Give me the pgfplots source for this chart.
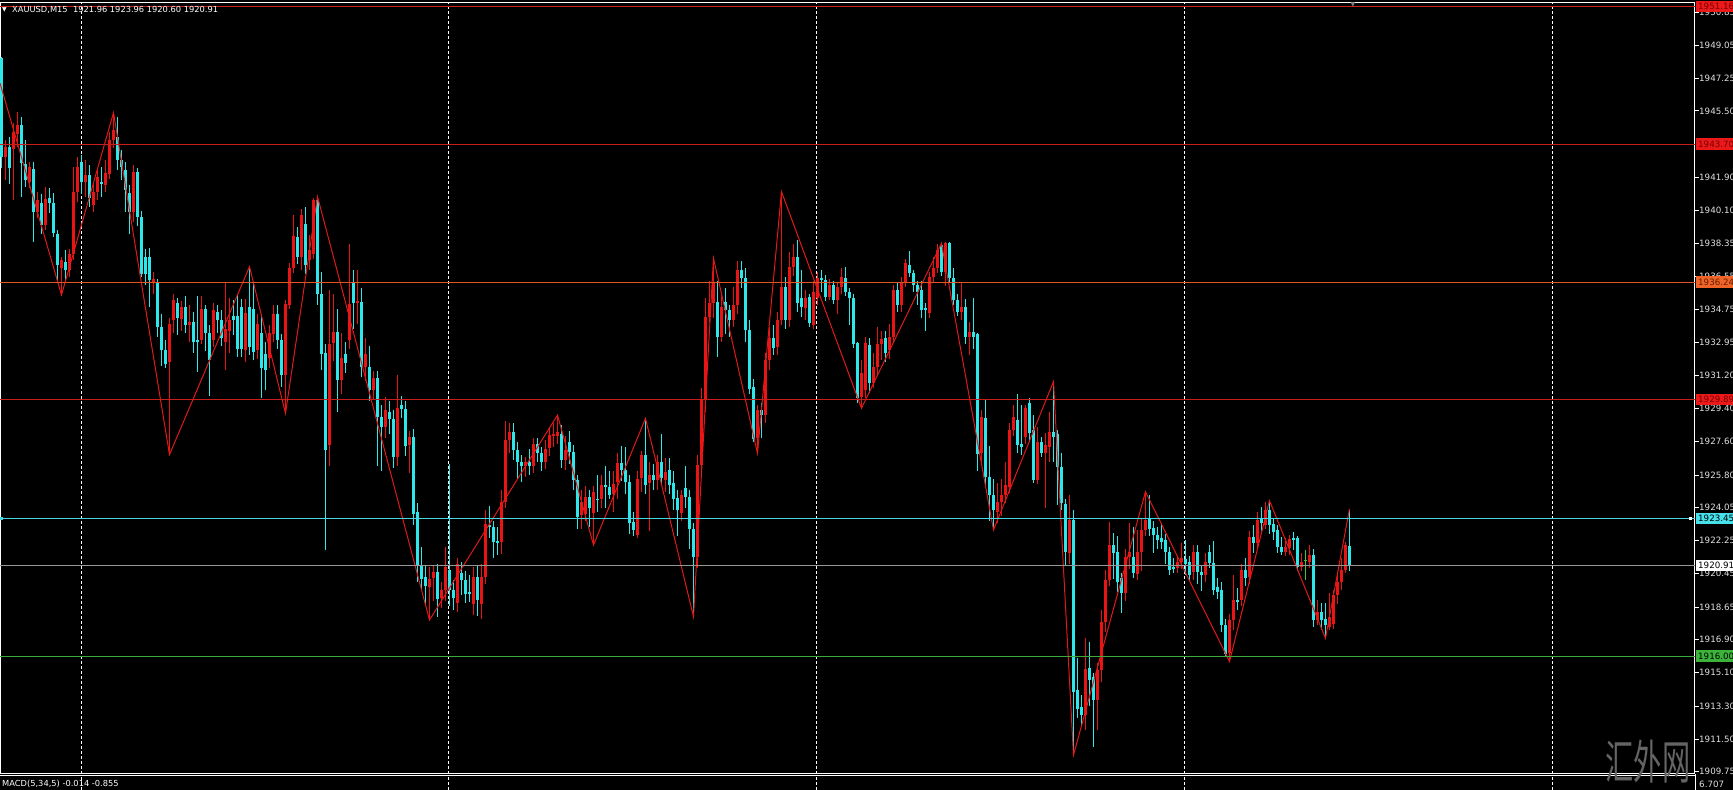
\documentclass[border=0pt]{standalone}
\usepackage{fontspec}
\setmainfont{DejaVu Sans}
\newfontfamily\cjk{Noto Sans CJK SC}
\usepackage{pgfplots}
\usepackage{pgfplotstable}
\pgfplotsset{compat=1.18}

\definecolor{cup}{RGB}{235,20,20}
\definecolor{cdn}{RGB}{45,232,235}
\definecolor{doji}{RGB}{60,200,60}
\definecolor{zz}{RGB}{225,25,25}
\definecolor{lvred}{RGB}{200,30,30}
\definecolor{lvorange}{RGB}{225,85,35}
\definecolor{lvcyan}{RGB}{70,215,225}
\definecolor{lvgray}{RGB}{150,150,150}
\definecolor{lvgreen}{RGB}{60,170,60}
\definecolor{bxred}{RGB}{235,25,25}
\definecolor{txred}{RGB}{120,0,0}
\definecolor{bxorange}{RGB}{240,100,40}
\definecolor{txorange}{RGB}{100,30,0}
\definecolor{bxcyan}{RGB}{70,225,235}
\definecolor{bxgreen}{RGB}{60,180,60}
\definecolor{ticktext}{RGB}{225,225,225}

% XAUUSD M15 bars: index, open, high, low, close
\pgfplotstableread{
i o h l c
0 1948.34 1948.40 1942.39 1943.02
1 1943.02 1943.92 1941.76 1943.53
2 1943.53 1944.10 1941.58 1942.43
3 1943.47 1944.83 1940.68 1944.37
4 1944.28 1945.46 1943.56 1944.74
5 1944.74 1945.19 1940.86 1942.66
6 1942.66 1943.92 1941.40 1941.76
7 1941.67 1942.75 1941.31 1942.48
8 1942.39 1942.75 1938.42 1940.05
9 1940.05 1941.13 1939.69 1940.68
10 1940.50 1941.04 1938.87 1939.32
11 1939.32 1941.40 1939.05 1940.77
12 1940.77 1941.31 1939.96 1940.50
13 1940.50 1941.04 1938.70 1938.87
14 1938.87 1939.05 1936.35 1937.16
15 1936.98 1937.61 1935.54 1937.43
16 1937.34 1937.97 1936.35 1936.89
17 1936.89 1938.05 1936.50 1937.79
18 1937.79 1942.48 1937.43 1941.13
19 1941.13 1943.02 1940.60 1942.48
20 1942.75 1943.11 1941.04 1941.67
21 1941.67 1942.84 1940.86 1942.03
22 1942.03 1942.57 1940.32 1940.77
23 1940.40 1941.58 1940.05 1941.13
24 1941.13 1942.30 1940.68 1941.94
25 1941.67 1942.48 1940.86 1941.55
26 1941.49 1942.84 1941.13 1942.16
27 1942.12 1944.37 1941.85 1943.92
28 1943.92 1945.40 1943.47 1944.47
29 1944.10 1945.19 1942.30 1942.84
30 1942.84 1943.38 1941.76 1942.48
31 1942.30 1942.75 1940.05 1941.22
32 1941.07 1941.49 1938.87 1940.05
33 1940.05 1942.57 1939.50 1942.21
34 1942.21 1942.39 1939.30 1939.77
35 1939.77 1940.10 1936.50 1936.71
36 1937.61 1938.05 1936.10 1936.71
37 1937.61 1938.10 1934.90 1936.35
38 1936.17 1936.80 1935.60 1936.40
39 1936.26 1936.40 1933.30 1933.82
40 1933.82 1934.50 1931.70 1932.56
41 1932.56 1933.10 1931.60 1931.83
42 1931.93 1934.30 1926.90 1934.00
43 1934.18 1935.60 1933.50 1935.27
44 1935.09 1935.40 1933.40 1934.27
45 1934.27 1935.20 1933.60 1934.90
46 1934.90 1935.50 1933.50 1933.90
47 1933.90 1935.00 1933.00 1934.05
48 1934.10 1934.60 1932.40 1933.00
49 1933.10 1935.50 1931.40 1933.00
50 1933.10 1935.50 1932.90 1934.81
51 1934.81 1935.00 1932.50 1933.46
52 1933.46 1933.90 1930.10 1932.02
53 1933.10 1935.10 1932.70 1934.70
54 1934.60 1935.00 1933.50 1934.20
55 1934.20 1934.70 1932.80 1933.20
56 1933.00 1936.20 1931.50 1933.70
57 1933.60 1935.40 1932.40 1934.20
58 1934.40 1935.30 1933.40 1934.20
59 1934.40 1935.60 1932.20 1932.60
60 1934.90 1935.30 1932.20 1932.65
61 1932.56 1935.30 1931.90 1934.54
62 1934.90 1937.07 1932.30 1932.74
63 1934.80 1936.20 1932.00 1932.47
64 1932.56 1934.50 1932.10 1934.00
65 1933.46 1934.50 1930.00 1931.57
66 1932.38 1933.00 1930.40 1931.48
67 1932.11 1933.90 1931.60 1933.46
68 1933.46 1935.00 1933.00 1934.54
69 1934.54 1935.00 1932.60 1933.10
70 1933.10 1933.46 1930.57 1931.21
71 1931.21 1935.26 1929.13 1935.08
72 1935.00 1937.30 1934.80 1936.98
73 1936.98 1939.86 1936.70 1938.73
74 1938.69 1939.20 1937.20 1937.61
75 1937.61 1940.20 1936.90 1939.86
76 1939.41 1940.30 1936.70 1937.16
77 1937.43 1938.80 1936.90 1937.97
78 1937.79 1940.80 1937.50 1940.68
79 1940.68 1940.86 1935.00 1935.62
80 1935.62 1936.80 1931.50 1932.38
81 1932.38 1932.90 1921.74 1927.15
82 1927.42 1935.80 1926.30 1932.92
83 1932.92 1935.60 1932.00 1933.55
84 1933.55 1934.80 1929.20 1930.93
85 1930.93 1933.50 1930.20 1932.11
86 1932.38 1933.00 1931.30 1931.84
87 1933.10 1938.30 1932.60 1935.08
88 1936.26 1936.90 1933.70 1935.08
89 1935.10 1936.90 1934.00 1935.20
90 1935.17 1935.90 1931.10 1931.66
91 1931.66 1933.20 1930.90 1932.38
92 1931.66 1932.80 1929.80 1930.39
93 1930.39 1931.40 1929.90 1931.03
94 1931.03 1931.40 1926.30 1928.95
95 1928.95 1929.60 1926.00 1928.41
96 1928.41 1930.00 1927.80 1929.31
97 1929.20 1929.80 1928.00 1928.86
98 1928.86 1929.30 1926.20 1926.79
99 1926.79 1931.20 1926.30 1929.40
100 1929.60 1930.10 1928.90 1929.40
101 1929.40 1929.80 1926.80 1927.40
102 1927.40 1928.20 1925.90 1927.87
103 1927.87 1928.30 1923.10 1923.72
104 1923.81 1924.30 1920.00 1920.93
105 1920.93 1921.90 1919.60 1920.20
106 1920.30 1920.90 1918.80 1919.80
107 1919.75 1920.80 1917.95 1920.20
108 1920.20 1920.90 1919.00 1920.56
109 1920.56 1921.00 1918.10 1919.12
110 1919.12 1920.00 1918.60 1919.57
111 1919.57 1921.90 1919.00 1920.83
112 1920.65 1926.40 1918.70 1919.57
113 1919.57 1920.10 1918.50 1919.12
114 1918.85 1921.30 1918.40 1921.00
115 1920.47 1921.10 1919.30 1920.11
116 1920.11 1920.60 1918.90 1919.39
117 1919.50 1920.40 1918.90 1919.39
118 1918.85 1920.80 1918.20 1920.29
119 1920.29 1920.90 1918.20 1919.03
120 1918.85 1921.00 1918.00 1920.29
121 1920.29 1923.90 1919.90 1923.18
122 1923.12 1924.10 1922.40 1923.00
123 1923.00 1923.30 1921.30 1922.19
124 1922.22 1923.00 1921.50 1922.10
125 1922.19 1925.00 1921.50 1924.35
126 1924.35 1928.70 1924.00 1927.69
127 1927.69 1928.60 1927.00 1928.14
128 1928.14 1928.60 1926.60 1927.15
129 1927.15 1927.60 1925.60 1926.52
130 1926.52 1926.90 1925.40 1926.30
131 1926.30 1926.80 1925.70 1926.50
132 1926.50 1927.20 1925.80 1926.30
133 1926.30 1927.80 1925.90 1927.50
134 1927.50 1927.80 1926.50 1927.00
135 1927.00 1927.30 1926.00 1926.50
136 1926.50 1927.70 1926.10 1927.24
137 1927.24 1928.40 1926.80 1927.96
138 1927.90 1928.60 1927.30 1928.00
139 1927.90 1929.04 1927.50 1928.14
140 1928.05 1928.50 1926.20 1926.61
141 1926.61 1927.90 1926.10 1927.15
142 1927.60 1928.20 1926.40 1927.06
143 1927.06 1927.40 1925.00 1925.52
144 1925.52 1925.80 1922.90 1923.54
145 1923.63 1925.00 1922.90 1924.35
146 1923.72 1925.20 1923.30 1924.62
147 1924.62 1925.00 1923.00 1923.99
148 1923.72 1925.20 1922.01 1924.89
149 1924.53 1925.80 1923.80 1924.44
150 1924.53 1925.80 1924.00 1925.26
151 1925.26 1926.30 1924.00 1925.17
152 1925.17 1926.00 1924.50 1924.71
153 1924.80 1926.00 1923.80 1925.35
154 1925.43 1927.00 1924.50 1926.43
155 1926.43 1927.40 1925.50 1926.07
156 1926.07 1927.30 1924.80 1925.43
157 1925.43 1925.80 1922.60 1923.18
158 1923.27 1923.80 1922.50 1922.82
159 1922.55 1926.00 1922.40 1925.62
160 1925.62 1927.10 1924.90 1926.88
161 1926.88 1928.86 1924.80 1925.26
162 1925.35 1926.50 1922.80 1925.80
163 1925.80 1926.40 1925.00 1925.53
164 1925.53 1926.90 1925.00 1926.52
165 1926.52 1928.00 1925.30 1925.62
166 1925.53 1926.70 1924.90 1925.98
167 1926.07 1926.70 1924.80 1925.26
168 1925.35 1926.00 1923.90 1924.53
169 1924.53 1925.00 1922.50 1923.90
170 1923.72 1925.00 1923.30 1924.71
171 1925.08 1926.30 1924.00 1924.62
172 1924.62 1925.00 1921.80 1922.91
173 1922.91 1923.20 1918.13 1921.38
174 1921.38 1926.90 1920.80 1926.34
175 1926.34 1930.50 1926.00 1929.85
176 1929.85 1935.40 1929.20 1934.36
177 1934.36 1936.30 1934.00 1935.09
178 1935.09 1937.52 1934.30 1936.17
179 1935.18 1936.30 1932.20 1933.28
180 1933.28 1935.70 1933.00 1934.91
181 1935.18 1935.90 1933.40 1934.73
182 1934.73 1935.00 1933.30 1934.18
183 1934.18 1936.00 1933.80 1935.00
184 1935.00 1937.40 1934.50 1936.89
185 1936.89 1937.40 1935.90 1936.44
186 1936.44 1937.00 1933.00 1933.64
187 1933.64 1934.20 1930.20 1930.49
188 1930.58 1931.00 1927.60 1927.78
189 1927.78 1929.60 1926.97 1929.31
190 1929.31 1929.70 1927.80 1929.04
191 1929.04 1932.40 1928.60 1932.02
192 1932.02 1933.80 1931.50 1933.19
193 1933.19 1933.90 1932.30 1932.70
194 1932.74 1934.60 1932.30 1934.18
195 1934.18 1941.13 1933.90 1935.99
196 1935.99 1936.50 1933.70 1934.18
197 1934.18 1937.90 1933.80 1937.07
198 1937.07 1938.30 1936.60 1937.61
199 1937.61 1938.50 1934.60 1935.09
200 1935.36 1936.89 1934.37 1934.91
201 1934.82 1935.80 1934.20 1935.36
202 1935.45 1935.60 1933.80 1934.00
203 1933.91 1936.30 1933.70 1935.72
204 1935.36 1936.80 1935.00 1936.44
205 1936.44 1936.90 1935.70 1936.35
206 1936.35 1936.60 1935.20 1935.45
207 1935.45 1936.40 1935.30 1936.08
208 1936.08 1936.30 1935.09 1935.27
209 1935.27 1936.20 1934.55 1935.99
210 1935.99 1937.00 1935.60 1936.53
211 1936.44 1937.04 1935.50 1935.72
212 1935.72 1935.90 1933.90 1935.36
213 1935.36 1935.60 1932.70 1932.92
214 1932.92 1933.00 1929.70 1929.95
215 1930.04 1932.00 1929.41 1931.30
216 1930.40 1933.30 1930.00 1932.92
217 1932.83 1933.20 1930.22 1930.76
218 1930.76 1932.40 1930.50 1931.66
219 1931.66 1933.82 1931.20 1932.92
220 1932.92 1933.60 1932.00 1933.19
221 1933.19 1933.60 1931.90 1932.38
222 1932.56 1934.00 1932.10 1933.28
223 1933.28 1936.10 1933.00 1935.81
224 1935.81 1936.20 1934.60 1935.00
225 1935.00 1936.50 1934.60 1936.26
226 1936.26 1937.50 1936.00 1937.25
227 1937.16 1937.92 1936.50 1936.71
228 1936.71 1936.90 1935.70 1936.08
229 1936.08 1936.30 1935.00 1935.72
230 1935.81 1936.30 1934.30 1934.73
231 1934.82 1935.10 1933.60 1934.73
232 1934.55 1936.80 1934.30 1936.53
233 1936.53 1937.60 1936.20 1936.98
234 1936.98 1938.30 1936.70 1937.97
235 1938.24 1938.33 1936.60 1936.80
236 1936.80 1938.40 1936.00 1938.33
237 1938.33 1938.40 1936.20 1936.44
238 1936.44 1937.00 1935.00 1935.27
239 1935.27 1935.60 1934.40 1934.64
240 1934.64 1936.20 1934.20 1934.91
241 1934.91 1935.30 1932.90 1933.28
242 1933.28 1934.10 1932.30 1933.55
243 1933.55 1935.40 1932.60 1933.30
244 1933.46 1933.50 1926.00 1926.97
245 1926.97 1929.30 1926.40 1928.95
246 1928.86 1929.90 1925.20 1925.71
247 1925.71 1927.40 1923.30 1924.72
248 1924.72 1925.60 1922.82 1923.90
249 1923.81 1925.40 1923.20 1924.35
250 1924.35 1925.60 1923.60 1924.72
251 1924.72 1926.50 1924.30 1925.26
252 1925.17 1928.60 1924.80 1928.23
253 1928.23 1929.60 1927.90 1928.95
254 1928.77 1930.20 1927.00 1927.42
255 1927.50 1929.60 1926.90 1927.33
256 1927.87 1929.60 1927.50 1929.41
257 1929.68 1930.00 1927.60 1928.05
258 1928.23 1929.04 1925.35 1925.53
259 1925.53 1928.41 1925.30 1927.60
260 1927.60 1927.87 1926.79 1926.97
261 1926.97 1928.10 1923.99 1927.42
262 1927.33 1929.22 1926.50 1928.14
263 1928.14 1930.85 1926.50 1927.87
264 1928.05 1928.23 1924.17 1926.25
265 1926.25 1926.97 1923.90 1924.26
266 1924.26 1924.50 1920.93 1921.65
267 1921.56 1924.71 1921.00 1923.36
268 1923.36 1923.90 1910.64 1914.07
269 1914.16 1915.88 1912.63 1913.17
270 1913.26 1913.90 1912.20 1912.81
271 1912.81 1916.96 1912.00 1915.34
272 1915.34 1916.78 1913.30 1914.70
273 1914.88 1915.10 1911.10 1913.62
274 1913.62 1915.60 1911.98 1915.24
275 1915.24 1918.49 1914.60 1917.86
276 1917.86 1920.66 1917.30 1920.12
277 1920.12 1923.27 1919.80 1922.01
278 1922.01 1922.68 1920.21 1921.56
279 1921.65 1922.50 1919.50 1920.03
280 1920.21 1920.50 1918.31 1919.39
281 1919.39 1921.80 1919.00 1921.38
282 1921.38 1923.18 1920.70 1921.65
283 1921.38 1923.00 1920.20 1920.48
284 1920.48 1922.82 1920.10 1921.65
285 1921.65 1923.50 1920.60 1922.82
286 1922.82 1924.89 1922.50 1923.36
287 1923.45 1924.71 1922.50 1922.91
288 1922.91 1923.30 1921.60 1922.55
289 1922.55 1923.00 1921.80 1922.28
290 1922.40 1923.18 1921.80 1922.19
291 1922.28 1922.60 1921.00 1921.65
292 1921.65 1921.90 1920.40 1920.66
293 1920.84 1921.30 1920.50 1920.75
294 1920.75 1921.40 1920.50 1921.11
295 1921.11 1922.10 1920.70 1921.29
296 1921.29 1922.30 1920.40 1921.02
297 1921.11 1921.40 1920.10 1920.39
298 1920.57 1922.00 1920.10 1921.65
299 1921.65 1922.00 1919.90 1920.57
300 1920.57 1920.90 1919.50 1920.39
301 1920.39 1921.60 1920.00 1921.11
302 1921.65 1922.00 1920.80 1921.02
303 1921.02 1922.20 1919.30 1919.57
304 1919.75 1920.20 1919.10 1919.48
305 1919.57 1920.00 1917.30 1917.68
306 1917.68 1918.00 1915.97 1916.15
307 1916.15 1918.30 1915.70 1917.95
308 1917.95 1920.40 1917.40 1919.03
309 1919.03 1919.70 1918.50 1918.94
310 1919.03 1921.00 1918.70 1920.66
311 1920.66 1921.30 1919.80 1920.21
312 1920.30 1922.80 1919.90 1922.46
313 1922.46 1923.10 1921.60 1922.10
314 1922.10 1923.80 1921.80 1923.36
315 1923.45 1924.09 1922.80 1923.18
316 1923.09 1924.36 1922.90 1923.91
317 1923.91 1924.41 1922.60 1923.09
318 1923.18 1923.40 1922.28 1922.73
319 1922.82 1923.10 1921.56 1921.92
320 1921.92 1922.46 1921.50 1921.65
321 1921.65 1922.40 1921.40 1921.92
322 1921.83 1922.55 1921.50 1922.37
323 1922.37 1922.70 1921.74 1922.28
324 1922.37 1922.50 1920.60 1920.84
325 1920.84 1921.56 1920.60 1921.11
326 1921.16 1921.74 1920.12 1921.16
327 1921.11 1922.01 1920.75 1921.47
328 1921.47 1921.80 1917.59 1917.95
329 1917.95 1919.04 1917.70 1918.40
330 1918.40 1918.85 1917.40 1917.95
331 1918.04 1918.90 1916.96 1917.68
332 1917.59 1919.40 1917.40 1918.13
333 1917.77 1919.58 1917.50 1919.31
334 1919.31 1920.48 1918.80 1920.03
335 1920.03 1921.30 1919.60 1920.66
336 1920.66 1922.20 1920.50 1922.01
337 1921.96 1923.96 1920.60 1920.91
}\bars

\begin{document}
\begin{tikzpicture}[x=1pt,y=1pt]
\useasboundingbox (0pt,0pt) rectangle (1733pt,790pt);
\fill[black] (0pt,0pt) rectangle (1733pt,790pt);
\begin{axis}[
    at={(0pt,16pt)}, anchor=south west,
    scale only axis, width=1695pt, height=771.3pt,
    xmin=-0.375, xmax=423.375, ymin=1909.617, ymax=1951.354,
    clip=false,
    axis background/.style={fill=black},
    axis line style={white, line width=1pt},
    xtick={20.07,111.8,203.8,295.8,387.8}, xticklabels={},
    xtick style={draw=none},
    xmajorgrids,
    major grid style={white, line width=1pt, dash pattern=on 3pt off 2pt},
    ytick pos=right, yticklabel pos=right,
    tick align=outside, major tick length=4pt,
    ytick style={white, line width=0.8pt},
    ytick={1950.85,1949.05,1947.25,1945.50,1941.90,1940.10,1938.35,1936.55,1934.75,1932.95,1931.20,1929.40,1927.60,1925.80,1924.05,1922.25,1920.45,1918.65,1916.90,1915.10,1913.30,1911.50,1909.75},
    yticklabels={1950.85,1949.05,1947.25,1945.50,1941.90,1940.10,1938.35,1936.55,1934.75,1932.95,1931.20,1929.40,1927.60,1925.80,1924.05,1922.25,1920.45,1918.65,1916.90,1915.10,1913.30,1911.50,1909.75},
    yticklabel style={ticktext, font=\fontsize{8.7}{10}\selectfont, anchor=west, inner sep=0pt},
]
% wicks
\addplot[draw=none, mark=none, forget plot,
    restrict expr to domain={\thisrow{c}-\thisrow{o}}{0.001:100},
    error bars/.cd, y dir=both, y explicit, error mark=none,
    error bar style={draw=cup, line width=1pt}]
  table[x=i, y expr={(\thisrow{h}+\thisrow{l})/2}, y error expr={(\thisrow{h}-\thisrow{l})/2}] {\bars};
\addplot[draw=none, mark=none, forget plot,
    restrict expr to domain={\thisrow{c}-\thisrow{o}}{-100:-0.001},
    error bars/.cd, y dir=both, y explicit, error mark=none,
    error bar style={draw=cdn, line width=1pt}]
  table[x=i, y expr={(\thisrow{h}+\thisrow{l})/2}, y error expr={(\thisrow{h}-\thisrow{l})/2}] {\bars};
% bodies
\addplot[draw=none, mark=none, forget plot,
    restrict expr to domain={\thisrow{c}-\thisrow{o}}{0.001:100},
    error bars/.cd, y dir=both, y explicit, error mark=none,
    error bar style={draw=cup, line width=3pt}]
  table[x=i, y expr={(\thisrow{o}+\thisrow{c})/2}, y error expr={abs(\thisrow{c}-\thisrow{o})/2}] {\bars};
\addplot[draw=none, mark=none, forget plot,
    restrict expr to domain={\thisrow{c}-\thisrow{o}}{-100:-0.001},
    error bars/.cd, y dir=both, y explicit, error mark=none,
    error bar style={draw=cdn, line width=3pt}]
  table[x=i, y expr={(\thisrow{o}+\thisrow{c})/2}, y error expr={abs(\thisrow{c}-\thisrow{o})/2}] {\bars};
% doji
\addplot[doji, only marks, mark=-, mark size=1.5pt, mark options={line width=1pt}, forget plot,
    restrict expr to domain={\thisrow{c}-\thisrow{o}}{-0.0005:0.0005},
    error bars/.cd, y dir=both, y explicit, error mark=none,
    error bar style={draw=doji, line width=1pt}]
  table[x=i, y=c, y error plus expr={\thisrow{h}-\thisrow{c}}, y error minus expr={\thisrow{c}-\thisrow{l}}] {\bars};
% zigzag
\addplot[zz, line width=1pt, mark=none] coordinates {
(-0.375,1947.00) (15,1935.54) (28,1945.40) (42,1926.90) (62,1937.07) (71,1929.13)
(79,1940.86) (107,1917.95) (139,1929.04) (148,1922.01) (161,1928.86) (173,1918.13)
(178,1937.52) (189,1926.97) (195,1941.13) (215,1929.41) (235,1938.33) (248,1922.82)
(263,1930.85) (268,1910.64) (286,1924.89) (307,1915.70) (317,1924.41) (331,1916.96)
(337,1923.96)};
% horizontal levels
\addplot[lvred, line width=1pt] coordinates {(-0.375,1951.16) (423.375,1951.16)};
\addplot[lvred, line width=1pt] coordinates {(-0.375,1943.70) (423.375,1943.70)};
\addplot[lvorange, line width=1pt] coordinates {(-0.375,1936.24) (423.375,1936.24)};
\addplot[lvred, line width=1pt] coordinates {(-0.375,1929.89) (423.375,1929.89)};
\addplot[lvcyan, line width=1pt] coordinates {(-0.375,1923.45) (423.375,1923.45)};
\addplot[lvgray, line width=1pt] coordinates {(-0.375,1920.91) (423.375,1920.91)};
\addplot[lvgreen, line width=1pt] coordinates {(-0.375,1916.00) (423.375,1916.00)};
\coordinate (L1) at (axis cs:423.375,1951.16);
\coordinate (L2) at (axis cs:423.375,1943.70);
\coordinate (L3) at (axis cs:423.375,1936.24);
\coordinate (L4) at (axis cs:423.375,1929.89);
\coordinate (L5) at (axis cs:423.375,1923.45);
\coordinate (L6) at (axis cs:423.375,1920.91);
\coordinate (L7) at (axis cs:423.375,1916.00);
\coordinate (C0) at (axis cs:-0.375,1923.45);
\end{axis}
% bottom double line and MACD strip
\draw[white, line width=1pt] (0pt,14pt) -- (1695pt,14pt);
\draw[white, line width=1pt] (1695pt,0pt) -- (1695pt,16pt);
\foreach \gx in {81.8,448.7,816.7,1184.7,1552.7}
  \draw[white, line width=1pt, dash pattern=on 3pt off 2pt] (\gx pt,0pt) -- (\gx pt,13.5pt);
\node[white, anchor=west, inner sep=0pt, font=\fontsize{8.3}{10}\selectfont] at (2pt,6.5pt) {MACD(5,34,5) -0.014 -0.855};
\node[ticktext, anchor=west, inner sep=0pt, font=\fontsize{8.7}{10}\selectfont] at (1699pt,6pt) {6.707};
% price labels
\tikzset{plab/.style={anchor=west, inner xsep=1.5pt, inner ysep=0pt, minimum height=11.5pt, minimum width=40pt, text height=6.3pt, text depth=0pt, align=left, font=\fontsize{8.7}{10}\selectfont}}
\node[plab, fill=bxred, text=txred] at ([xshift=1pt]L1) {1951.16\hfill};
\node[plab, fill=bxred, text=txred] at ([xshift=1pt]L2) {1943.70\hfill};
\node[plab, fill=bxorange, text=txorange] at ([xshift=1pt]L3) {1936.24\hfill};
\node[plab, fill=bxred, text=txred] at ([xshift=1pt]L4) {1929.89\hfill};
\node[plab, fill=bxcyan, text=black] at ([xshift=1pt]L5) {1923.45\hfill};
\node[plab, fill=white, text=black] at ([xshift=1pt]L6) {1920.91\hfill};
\node[plab, fill=bxgreen, text=black] at ([xshift=1pt]L7) {1916.00\hfill};
\fill[lvcyan] ([yshift=-1.5pt]C0) rectangle ++(3pt,3pt);
\fill[white] ([xshift=-6pt,yshift=-1.5pt]L5) rectangle ++(3pt,3pt);
% header text
\node[white, anchor=west, inner sep=0pt, font=\fontsize{6}{6}\selectfont] at (2pt,780.5pt) {▼};
\node[white, anchor=west, inner sep=0pt, font=\fontsize{8.3}{10}\selectfont] at (12pt,780pt) {XAUUSD,M15\ \ 1921.96 1923.96 1920.60 1920.91};
\node[gray, inner sep=0pt, font=\fontsize{6}{6}\selectfont] at (1353pt,785pt) {▼};
% watermark
\node[inner sep=0pt, text={rgb,255:red,100;green,100;blue,100}, font=\cjk\fontsize{47}{47}\selectfont, xscale=0.6] at (1648pt,28pt) {汇外网};
\end{tikzpicture}
\end{document}
